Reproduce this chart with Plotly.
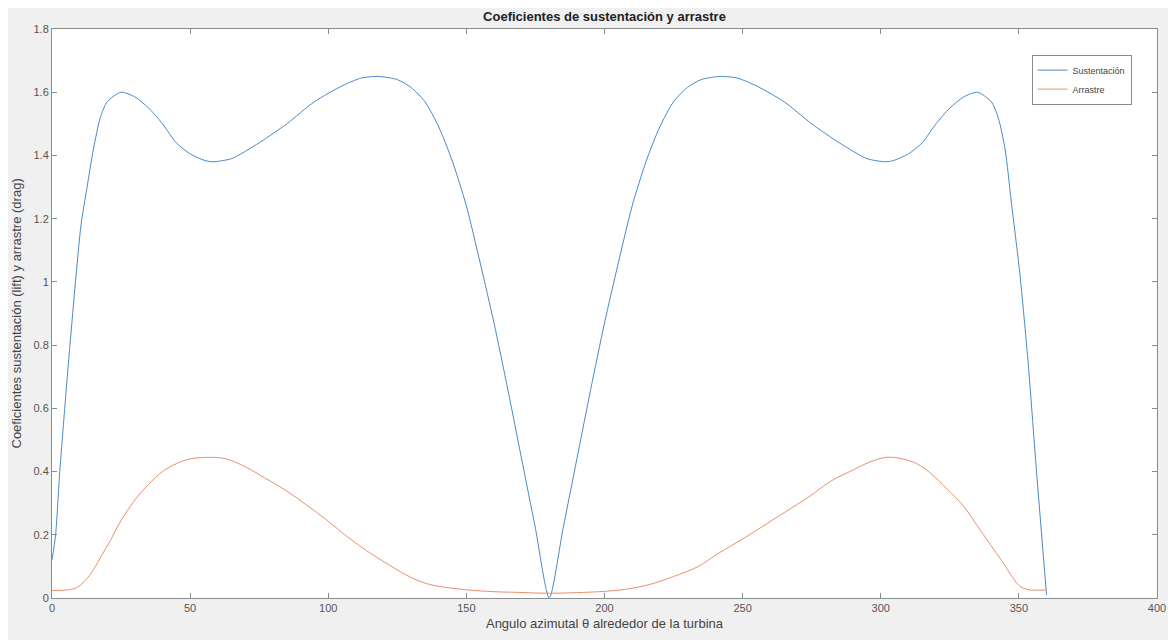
import plotly.graph_objects as go

# Lift coefficient (Sustentación) vs azimuth angle
lift_x = [0, 1.3, 2.8, 3.7, 4.6, 6.5, 8.5, 10.5, 12.7, 15, 17.5, 20, 25, 30, 35, 40, 45, 50, 55, 58,
          65, 75, 85, 95, 105, 112, 118, 125, 130, 135, 140, 145, 150, 155, 160, 165, 170, 175, 180,
          185, 190, 195, 200, 205, 210, 215, 220, 225, 230, 235, 242, 248, 255, 265, 275, 285, 295,
          302, 305, 310, 315, 320, 325, 330, 335, 340, 342.5, 345, 347.3, 350.3, 353.3, 356.3, 360]
lift_y = [0.12, 0.2, 0.4, 0.5, 0.6, 0.8, 1.0, 1.18, 1.3, 1.42, 1.52, 1.57, 1.6, 1.585, 1.55, 1.5, 1.44, 1.405, 1.385, 1.38,
          1.39, 1.44, 1.5, 1.57, 1.62, 1.645, 1.65, 1.64, 1.615, 1.57, 1.49, 1.38, 1.24, 1.06, 0.87, 0.66, 0.44, 0.22, 0.0,
          0.22, 0.44, 0.66, 0.87, 1.06, 1.24, 1.38, 1.49, 1.57, 1.615, 1.64, 1.65, 1.645, 1.62, 1.57, 1.5, 1.44, 1.39,
          1.38, 1.385, 1.405, 1.44, 1.5, 1.55, 1.585, 1.6, 1.57, 1.52, 1.42, 1.25, 1.03, 0.75, 0.41, 0.01]

# Drag coefficient (Arrastre)
drag_x = [0, 3, 6, 9, 12, 15, 18, 21, 25, 30, 35, 40, 45, 50, 57.5, 63, 70, 77, 84.7, 92, 99, 106, 113.8,
          121, 128, 134, 140, 150, 160, 168, 180, 190, 200, 208, 216, 225, 234, 241, 249.5, 257, 265, 274, 282,
          290, 296, 302, 308, 313, 318, 324, 330, 336, 340, 344, 347, 350, 353, 356, 360]
drag_y = [0.024, 0.024, 0.026, 0.033, 0.055, 0.09, 0.135, 0.18, 0.245, 0.31, 0.36, 0.4, 0.425, 0.44, 0.445, 0.44, 0.415, 0.38, 0.34, 0.295, 0.25, 0.2, 0.15,
          0.11, 0.074, 0.05, 0.037, 0.026, 0.02, 0.018, 0.015, 0.017, 0.021, 0.028, 0.042, 0.068, 0.1, 0.14, 0.184, 0.225, 0.27, 0.32, 0.37,
          0.405, 0.43, 0.445, 0.44, 0.425, 0.395, 0.345, 0.29, 0.215, 0.165, 0.115, 0.075, 0.04, 0.027, 0.025, 0.025]

x_ticks = [0, 50, 100, 150, 200, 250, 300, 350, 400]
y_ticks = [0, 0.2, 0.4, 0.6, 0.8, 1, 1.2, 1.4, 1.6, 1.8]
y_tick_labels = ["0", "0.2", "0.4", "0.6", "0.8", "1", "1.2", "1.4", "1.6", "1.8"]

title_text = "Coeficientes de sustentación y arrastre"
x_label = "Angulo azimutal θ alrededor de la turbina"
y_label = "Coeficientes sustentación (lift) y arrastre (drag)"

font_family = "Liberation Sans, Arial, sans-serif"

fig = go.Figure()
fig.add_trace(go.Scatter(x=lift_x, y=lift_y, mode="lines", name="Sustentación",
                         line=dict(color="#4a8ac6", width=1, shape="spline", smoothing=0.7)))
fig.add_trace(go.Scatter(x=drag_x, y=drag_y, mode="lines", name="Arrastre",
                         line=dict(color="#e8906c", width=1, shape="spline", smoothing=1.0)))

axis_common = dict(showgrid=False, zeroline=False, showline=True, linecolor="#8c8c8c", linewidth=1,
                   mirror="ticks", ticks="inside", ticklen=5, tickcolor="#8c8c8c", automargin=False,
                   tickfont=dict(size=11, color="#555555", family=font_family))

fig.update_xaxes(range=[0, 400], tickvals=x_ticks,
                 title=dict(text=x_label, standoff=5,
                            font=dict(size=13, color="#444444", family=font_family)),
                 **axis_common)
fig.update_yaxes(range=[0, 1.8], tickvals=y_ticks, ticktext=y_tick_labels, **axis_common)

fig.add_annotation(text=y_label, textangle=-90, xref="paper", yref="paper", x=0, y=0.5,
                   xanchor="center", yanchor="middle", xshift=-36, showarrow=False,
                   font=dict(size=13, color="#444444", family=font_family))

fig.update_layout(
    width=1168, height=632,
    paper_bgcolor="#f0f0f0", plot_bgcolor="#ffffff",
    margin=dict(l=44, r=19, t=21, b=42, autoexpand=False),
    title=dict(text="<b>" + title_text + "</b>", x=0.5, xref="paper", xanchor="center",
               y=0.986, yanchor="middle", automargin=False,
               font=dict(size=13, color="#222222", family=font_family)),
    legend=dict(x=0.977, y=0.955, xanchor="right", yanchor="top", bgcolor="#ffffff",
                bordercolor="#8c8c8c", borderwidth=1, font=dict(size=9, color="#444444", family=font_family),
                tracegroupgap=0, itemwidth=30),
    showlegend=True,
)

fig.write_html("out.html")
